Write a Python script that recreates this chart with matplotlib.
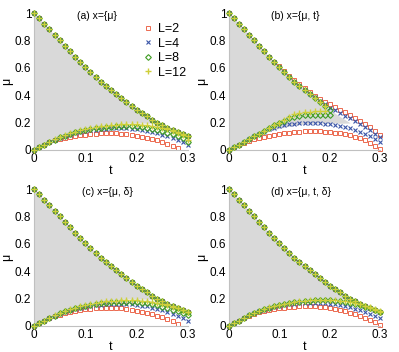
import matplotlib
matplotlib.use("Agg")
import matplotlib.pyplot as plt

plt.rcParams['font.family'] = ['Liberation Sans', 'DejaVu Sans']

# t grid (step 0.01)
t = [0.00, 0.01, 0.02, 0.03, 0.04, 0.05, 0.06, 0.07, 0.08, 0.09, 0.10,
     0.11, 0.12, 0.13, 0.14, 0.15, 0.16, 0.17, 0.18, 0.19, 0.20,
     0.21, 0.22, 0.23, 0.24, 0.25, 0.26, 0.27, 0.28, 0.29, 0.30]

# Mott lobe (gray region)
t_gray = [0.00, 0.02, 0.04, 0.06, 0.08, 0.10, 0.12, 0.14, 0.16, 0.18, 0.20, 0.22, 0.24]
gray_lo = [0.0, 0.04, 0.078, 0.11, 0.137, 0.158, 0.174, 0.186, 0.194, 0.198, 0.198, 0.195, 0.197]
gray_hi = [1.0, 0.92, 0.84, 0.76, 0.68, 0.605, 0.535, 0.47, 0.41, 0.35, 0.295, 0.245, 0.200]

# common upper branch
mu_up = [1.0, 0.96, 0.92, 0.88, 0.84, 0.80, 0.76, 0.72, 0.68, 0.64, 0.605,
         0.57, 0.535, 0.50, 0.47, 0.44, 0.41, 0.38, 0.35, 0.32, 0.295,
         0.27, 0.245, 0.22, 0.20, 0.18, 0.16, 0.145, 0.13, 0.115, 0.10]

# panel (a) lower branches
a_lo_L2 = [0, .02, .04, .055, .07, .08, .09, .097, .103, .108, .113, .117, .12, .122, .123,
           .123, .122, .12, .116, .111, .105, .098, .09, .08, .07, .058, .046, .03, .014]
a_lo_L4 = [0, .02, .04, .058, .075, .09, .102, .113, .122, .13, .137, .143, .148, .152, .155,
           .157, .158, .158, .157, .155, .152, .147, .14, .132, .123, .112, .1, .087, .072, .055, .035]
a_lo_L8 = [0, .02, .04, .058, .076, .092, .105, .117, .128, .137, .145, .152, .158, .163, .167,
           .17, .172, .173, .173, .172, .17, .166, .161, .155, .147, .138, .127, .115, .101, .086, .06]
a_lo_L12 = [0, .02, .04, .059, .077, .094, .108, .121, .133, .143, .152, .16, .167, .173, .178,
            .182, .185, .187, .188, .188, .187, .185, .181, .176, .169, .16, .15, .139, .126, .112, .075]

# panel (b)
b_up_L2 = [1.0, .96, .92, .88, .84, .80, .76, .72, .68, .645, .61, .575, .54, .51, .48, .45,
           .42, .395, .37, .35, .335, .315, .295, .275, .255, .235, .21, .19, .165, .14, .11]
b_up_L4 = [1.0, .96, .92, .88, .84, .80, .76, .72, .68, .64, .605, .57, .535, .50, .47, .44,
           .41, .385, .36, .335, .31, .29, .27, .25, .23, .21, .19, .165, .145, .12, .092]
b_up_L8 = [1.0, .96, .92, .88, .84, .80, .76, .72, .68, .64, .605, .57, .535, .50, .47, .44,
           .41, .38, .35, .32, .29]
b_up_L12 = [1.0, .96, .92, .88, .84, .80, .76, .72, .68, .64, .605, .57, .535, .50, .47, .44,
            .41, .38, .35, .32]
b_lo_L2 = [0, .018, .035, .05, .064, .077, .088, .097, .105, .112, .118, .123, .127, .131, .134,
           .136, .137, .137, .136, .134, .131, .127, .122, .115, .107, .097, .085, .07, .052, .03, .005]
b_lo_L4 = [0, .02, .04, .06, .08, .1, .118, .135, .15, .163, .173, .181, .187, .191, .194,
           .195, .196, .196, .195, .193, .19, .185, .178, .17, .16, .148, .13, .115, .1, .08, .057]
b_lo_L8 = [0, .02, .04, .06, .08, .1, .12, .14, .16, .18, .2, .215, .23, .24, .248,
           .252, .255, .256, .256, .255, .253]
b_lo_L12 = [0, .02, .04, .06, .08, .1, .12, .14, .16, .18, .2, .22, .24, .26, .27,
            .277, .281, .283, .283, .282]

# panel (c) lower branches
c_lo_L2 = [0, .02, .04, .056, .071, .083, .094, .103, .11, .116, .121, .125, .128, .13, .131,
           .131, .13, .128, .124, .119, .113, .105, .096, .086, .075, .063, .05, .035, .018]
c_lo_L4 = [0, .02, .04, .058, .075, .09, .103, .114, .124, .132, .139, .145, .15, .154, .157,
           .159, .16, .16, .159, .157, .154, .149, .143, .135, .126, .115, .103, .09, .075, .058, .04]
c_lo_L8 = [0, .02, .04, .058, .076, .092, .106, .119, .13, .14, .149, .156, .162, .167, .171,
           .174, .176, .177, .177, .176, .174, .17, .165, .159, .151, .142, .131, .119, .106, .092, .078]
c_lo_L12 = [0, .02, .04, .059, .077, .094, .109, .122, .134, .144, .153, .161, .168, .174, .179,
            .183, .186, .188, .189, .189, .188, .186, .182, .177, .17, .162, .152, .141, .129, .115, .1]

# panel (d) lower branches
d_lo_L2 = [0, .02, .04, .058, .074, .088, .1, .11, .118, .124, .129, .134, .138, .141, .143,
           .145, .145, .144, .141, .137, .132, .125, .117, .108, .097, .085, .072, .058, .043, .027, .01]
d_lo_L4 = [0, .02, .04, .059, .077, .093, .107, .119, .13, .139, .147, .154, .159, .163, .166,
           .168, .169, .169, .168, .166, .163, .159, .153, .146, .137, .127, .116, .103, .089, .074, .058]
d_lo_L8 = [0, .02, .04, .059, .077, .094, .109, .122, .134, .144, .153, .161, .168, .173, .178,
           .182, .185, .187, .188, .188, .187, .185, .181, .176, .17, .162, .153, .142, .13, .116, .1]
d_lo_L12 = [0, .02, .04, .06, .078, .095, .11, .124, .136, .146, .155, .163, .17, .176, .181,
            .185, .188, .19, .192, .192, .191, .189, .186, .181, .175, .168, .159, .149, .137, .123, .108]

labels = ["L=2", "L=4", "L=8", "L=12"]
titles = ["(a) x={\u03bc}", "(b) x={\u03bc, t}", "(c) x={\u03bc, \u03b4}", "(d) x={\u03bc, t, \u03b4}"]
title_x = [0.28, 0.28, 0.31, 0.28]

panels = [
    ([mu_up, mu_up, mu_up, mu_up], [a_lo_L2, a_lo_L4, a_lo_L8, a_lo_L12]),
    ([b_up_L2, b_up_L4, b_up_L8, b_up_L12], [b_lo_L2, b_lo_L4, b_lo_L8, b_lo_L12]),
    ([mu_up, mu_up, mu_up, mu_up], [c_lo_L2, c_lo_L4, c_lo_L8, c_lo_L12]),
    ([mu_up, mu_up, mu_up, mu_up], [d_lo_L2, d_lo_L4, d_lo_L8, d_lo_L12]),
]

styles = [
    dict(marker='s', mfc='none', mec='#ec6a50', ms=3.2, mew=0.7),
    dict(marker='x', mfc='none', mec='#3a55a8', ms=2.8, mew=0.8),
    dict(marker='D', mfc='none', mec='#3f9c22', ms=2.9, mew=0.8),
    dict(marker='+', mfc='none', mec='#cfcf3a', ms=3.8, mew=1.0),
]

positions = [
    [34/399, 1-150/352, 154/399, 137/352],
    [229/399, 1-150/352, 151/399, 137/352],
    [34/399, 1-326/352, 154/399, 137/352],
    [229/399, 1-326/352, 151/399, 137/352],
]

fig = plt.figure(figsize=(3.99, 3.52), dpi=100)
for k, pos in enumerate(positions):
    ax = fig.add_axes(pos)
    ax.fill_between(t_gray, gray_lo, gray_hi, color='#d9d9d9', lw=0, zorder=0)
    ups, los = panels[k]
    for j in range(4):
        ax.plot(t[:len(ups[j])], ups[j], ls='none', clip_on=False, zorder=2+j, **styles[j])
        ax.plot(t[:len(los[j])], los[j], ls='none', clip_on=False, zorder=2+j, **styles[j],
                label=labels[j])
    ax.set_xlim(0, 0.3)
    ax.set_ylim(0, 1)
    ax.set_xticks([0, 0.1, 0.2, 0.3])
    ax.set_xticklabels(["0", "0.1", "0.2", "0.3"])
    ax.set_yticks([0, 0.2, 0.4, 0.6, 0.8, 1])
    ax.set_yticklabels(["0", "0.2", "0.4", "0.6", "0.8", "1"])
    ax.tick_params(length=0, labelsize=8.5, pad=2)
    for s in ['top', 'right']:
        ax.spines[s].set_visible(False)
    for s in ['left', 'bottom']:
        ax.spines[s].set_color('#c0c0c0')
        ax.spines[s].set_linewidth(0.8)
    ax.set_xlabel("t", fontsize=9, labelpad=0)
    ax.set_ylabel("\u03bc", fontsize=9, labelpad=1)
    ax.text(title_x[k], 0.978, titles[k], transform=ax.transAxes, fontsize=7.5,
            ha='left', va='center', zorder=10)
    if k == 0:
        ax.legend(loc='upper left', bbox_to_anchor=(0.64, 0.99), frameon=False,
                  fontsize=9, handlelength=1.0, handletextpad=0.3,
                  labelspacing=0.2, borderpad=0.2)

fig.savefig("out.png", dpi=100)
